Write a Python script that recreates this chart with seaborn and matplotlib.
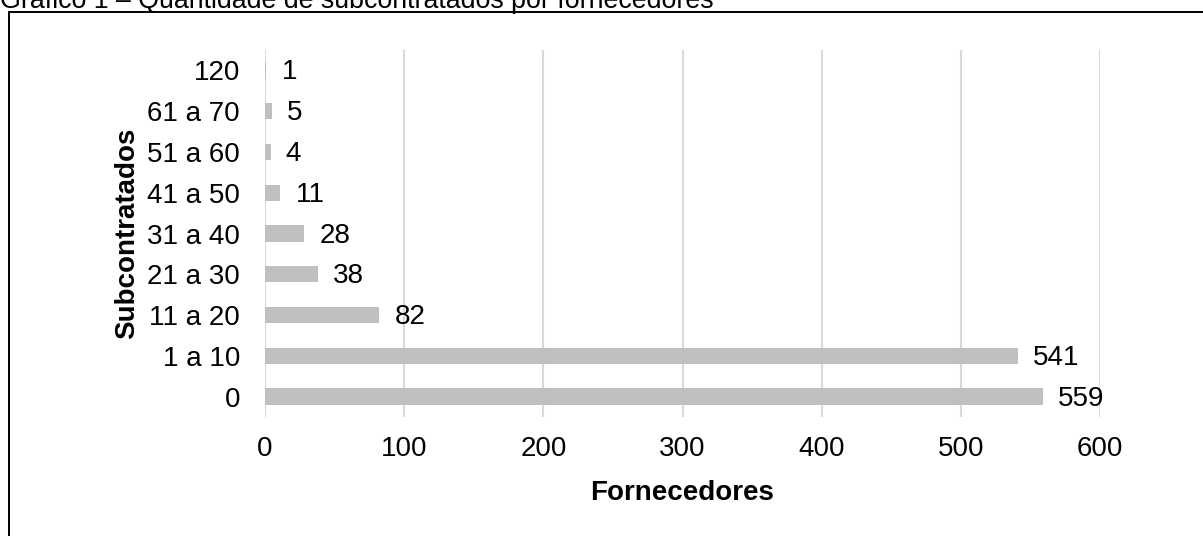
import matplotlib
matplotlib.use("Agg")
import matplotlib.pyplot as plt
from matplotlib.lines import Line2D
import seaborn as sns
import pandas as pd

# Number of subcontractors per supplier (bands) and supplier counts
categories = ["120", "61 a 70", "51 a 60", "41 a 50", "31 a 40",
              "21 a 30", "11 a 20", "1 a 10", "0"]
suppliers = [1, 5, 4, 11, 28, 38, 82, 541, 559]
x_ticks = [0, 100, 200, 300, 400, 500, 600]

title = "Gráfico 1 – Quantidade de subcontratados por fornecedores"
x_label = "Fornecedores"
y_label = "Subcontratados"

sns.set_theme(style="white")
plt.rcParams["font.family"] = ["Liberation Sans", "DejaVu Sans"]

FS = 20

df = pd.DataFrame({"faixa": categories, "fornecedores": suppliers})

W, H = 1203, 536
fig = plt.figure(figsize=(W / 100, H / 100), dpi=100)
ax = fig.add_axes([265 / W, 1 - 417 / H, (1100 - 265) / W, (417 - 50) / H])

sns.barplot(data=df, x="fornecedores", y="faixa", order=categories,
            orient="h", color="#bfbfbf", width=0.4, saturation=1,
            linewidth=0, ax=ax, zorder=3)

for c in ax.containers:
    for t in ax.bar_label(c, padding=11, fontsize=FS, color="#000000"):
        t.xyann = (11, -1.5)

ax.set_xlim(0, 600)
ax.set_ylim(len(categories) - 0.5, -0.5)
ax.set_xticks(x_ticks)
ax.xaxis.grid(True, color="#d9d9d9", linewidth=1.5, zorder=0)
ax.yaxis.grid(False)
for s in ax.spines.values():
    s.set_visible(False)
ax.tick_params(axis="x", length=0, pad=14, labelsize=FS, labelcolor="#000000")
ax.tick_params(axis="y", length=0, pad=18, labelsize=FS, labelcolor="#000000")
ax.set_xlabel(x_label, fontsize=FS, fontweight="bold", labelpad=13, color="#000000")
ax.set_ylabel(y_label, fontsize=FS, fontweight="bold", labelpad=5, color="#000000")

# Caption above the frame and the frame's top and left edges
fig.text(0 / W, 1 - 8 / H, title, fontsize=19.3, ha="left", va="baseline",
         color="#000000")
fig.add_artist(Line2D([8.5 / W, 1.0], [1 - 12 / H, 1 - 12 / H],
                      transform=fig.transFigure, color="#000000", linewidth=1.4))
fig.add_artist(Line2D([8.5 / W, 8.5 / W], [1 - 12 / H, 0.0],
                      transform=fig.transFigure, color="#000000", linewidth=1.4))

fig.savefig("out.png", dpi=100)
